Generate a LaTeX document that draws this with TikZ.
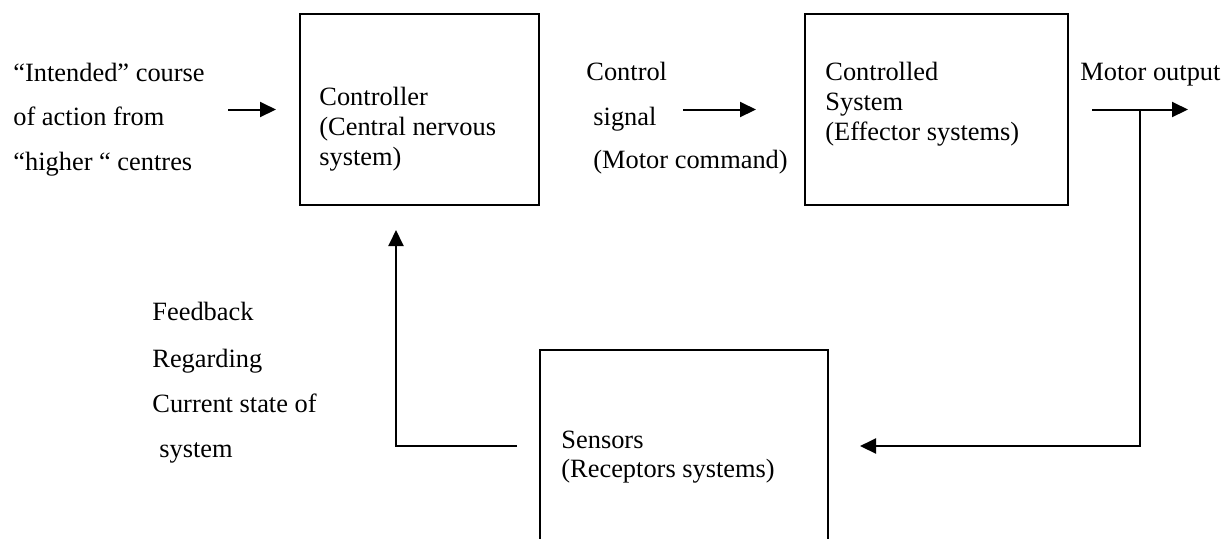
\documentclass[tikz,border=0pt]{standalone}
\usepackage{fontspec}
\setmainfont{Liberation Serif}
\usetikzlibrary{arrows.meta}
\begin{document}
\begin{tikzpicture}[x=0.5pt,y=-0.5pt,
  box/.style={draw,line width=1pt,inner sep=0pt,outer sep=0pt,anchor=north west},
  lbl/.style={anchor=base west,inner sep=0pt,font=\fontsize{13.2}{15}\selectfont},
  flow/.style={line width=1pt,-{Triangle[length=8pt,width=7.5pt]}}]
\useasboundingbox (0,0) rectangle (1226,538);
\clip (0,0) rectangle (1226,538);

% blocks
\node[box,minimum width=119.5pt,minimum height=95.5pt] (ctrl) at (300,14) {};
\node[box,minimum width=131.5pt,minimum height=95.5pt] (plant) at (805,14) {};
\node[box,minimum width=144pt,minimum height=125pt] (sens) at (540,350) {};

% text inside the blocks
\node[lbl] (c1) at (319,105) {Controller};
\node[lbl] (c2) at (319,135) {(Central nervous};
\node[lbl] (c3) at (319,165) {system)};
\node[lbl] (p1) at (825,80) {Controlled};
\node[lbl] (p2) at (825,110) {System};
\node[lbl] (p3) at (825,140) {(Effector systems)};
\node[lbl] (s1) at (561,448) {Sensors};
\node[lbl] (s2) at (561,477) {(Receptors systems)};

% signal labels
\node[lbl] (i1) at (13,81) {“Intended” course};
\node[lbl] (i2) at (13,125) {of action from};
\node[lbl] (i3) at (13,170) {“higher “ centres};
\node[lbl] (u1) at (586,80) {Control};
\node[lbl] (u2) at (593,125) {signal};
\node[lbl] (u3) at (593,168) {(Motor command)};
\node[lbl] (y1) at (1080,80) {Motor output};
\node[lbl] (f1) at (152,320) {Feedback};
\node[lbl] (f2) at (152,367) {Regarding};
\node[lbl] (f3) at (152,412) {Current state of};
\node[lbl] (f4) at (159,457) {system};

% connectors
\draw[flow] ([xshift=-36pt]ctrl.west) -- ([xshift=-12pt]ctrl.west);
\draw[flow] ([xshift=-61pt]plant.west) -- ([xshift=-24.5pt]plant.west);
\draw[flow] ([xshift=12pt]plant.east) -- ([xshift=60pt]plant.east);
\coordinate (tap) at (1140,110);
\coordinate (fbin) at (860,446);
\draw[flow] (tap) |- (fbin);
\coordinate (retA) at (517,446);
\coordinate (retB) at (396,230);
\draw[flow] (retA) -| (retB);
\end{tikzpicture}
\end{document}
